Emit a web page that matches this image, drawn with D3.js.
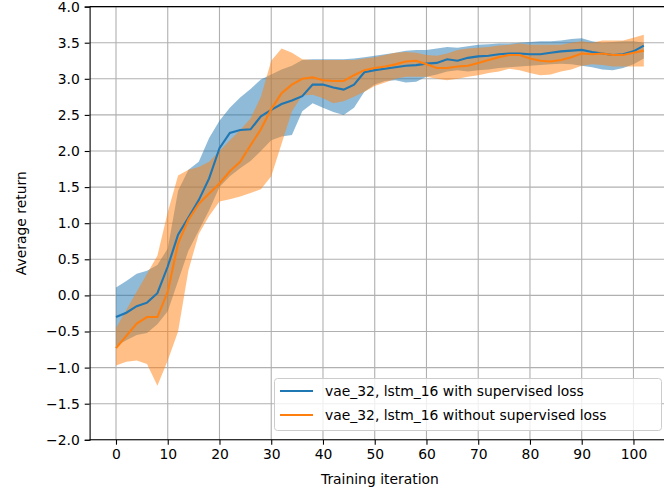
<!DOCTYPE html>
<html>
<head>
<meta charset="utf-8">
<script src="https://cdn.jsdelivr.net/npm/d3@7"></script>
<style>
  body { margin: 0; background: #fff; }
  svg { display: block; font-family: "DejaVu Sans", sans-serif; }
</style>
</head>
<body>
<svg id="chart" width="664" height="495"></svg>
<script>
var iterations = [0, 2, 4, 6, 8, 10, 12, 14, 16, 18, 20, 22, 24, 26, 28, 30, 32, 34, 36, 38,
  40, 42, 44, 46, 48, 50, 52, 54, 56, 58, 60, 62, 64, 66, 68, 70, 72, 74, 76, 78,
  80, 82, 84, 86, 88, 90, 92, 94, 96, 98, 100, 102];

// with supervised loss
var supMean = [-0.30, -0.24, -0.15, -0.10, 0.03, 0.40, 0.84, 1.08, 1.32, 1.62, 2.04, 2.25, 2.29, 2.30, 2.48, 2.57, 2.65, 2.70, 2.76, 2.92,
  2.92, 2.88, 2.85, 2.92, 3.09, 3.12, 3.14, 3.16, 3.18, 3.19, 3.21, 3.22, 3.27, 3.25, 3.29, 3.31, 3.32, 3.34, 3.35, 3.35,
  3.34, 3.34, 3.36, 3.38, 3.39, 3.40, 3.37, 3.35, 3.33, 3.34, 3.38, 3.46];
var supUpper = [0.11, 0.20, 0.30, 0.34, 0.42, 0.65, 1.45, 1.74, 1.85, 2.18, 2.42, 2.60, 2.74, 2.86, 2.99, 3.06, 3.13, 3.18, 3.26, 3.27,
  3.27, 3.27, 3.27, 3.28, 3.30, 3.32, 3.34, 3.36, 3.39, 3.40, 3.40, 3.42, 3.44, 3.43, 3.45, 3.47, 3.48, 3.49, 3.49, 3.50,
  3.51, 3.52, 3.52, 3.53, 3.55, 3.56, 3.52, 3.50, 3.51, 3.52, 3.52, 3.50];
var supLower = [-0.70, -0.62, -0.55, -0.52, -0.40, -0.22, 0.20, 0.62, 0.90, 1.18, 1.50, 1.65, 1.76, 1.86, 2.00, 2.15, 2.20, 2.22, 2.55, 2.66,
  2.60, 2.54, 2.50, 2.60, 2.82, 2.92, 2.97, 2.98, 2.95, 2.96, 3.03, 3.06, 3.10, 3.12, 3.10, 3.12, 3.13, 3.15, 3.16, 3.17,
  3.18, 3.19, 3.20, 3.21, 3.20, 3.18, 3.16, 3.13, 3.12, 3.15, 3.20, 3.28];

// without supervised loss
var unsupMean = [-0.73, -0.56, -0.39, -0.30, -0.30, 0.05, 0.72, 1.05, 1.27, 1.41, 1.55, 1.72, 1.85, 2.08, 2.30, 2.58, 2.80, 2.92, 3.00, 3.02,
  2.98, 2.97, 2.97, 3.05, 3.12, 3.15, 3.17, 3.20, 3.24, 3.25, 3.20, 3.15, 3.15, 3.17, 3.18, 3.22, 3.26, 3.30, 3.33, 3.33,
  3.28, 3.25, 3.24, 3.26, 3.30, 3.35, 3.34, 3.35, 3.33, 3.33, 3.36, 3.39];
var unsupUpper = [-0.45, -0.20, 0.05, 0.30, 0.55, 1.15, 1.66, 1.74, 1.78, 1.85, 2.00, 2.15, 2.29, 2.45, 2.75, 3.25, 3.42, 3.36, 3.27, 3.26,
  3.26, 3.26, 3.26, 3.26, 3.28, 3.30, 3.33, 3.36, 3.37, 3.36, 3.33, 3.32, 3.35, 3.40, 3.42, 3.43, 3.44, 3.46, 3.47, 3.49,
  3.47, 3.47, 3.47, 3.47, 3.50, 3.52, 3.50, 3.53, 3.53, 3.53, 3.57, 3.61];
var unsupLower = [-0.97, -0.92, -0.90, -0.95, -1.25, -0.90, -0.50, 0.35, 0.85, 1.10, 1.30, 1.33, 1.37, 1.42, 1.47, 1.65, 2.10, 2.55, 2.77, 2.78,
  2.73, 2.66, 2.69, 2.75, 2.82, 2.90, 2.95, 3.00, 3.03, 3.03, 3.03, 3.00, 2.98, 3.00, 3.03, 3.05, 3.08, 3.10, 3.14, 3.12,
  3.08, 3.05, 3.06, 3.10, 3.13, 3.18, 3.20, 3.19, 3.17, 3.17, 3.17, 3.17];

var xTicks = [0, 10, 20, 30, 40, 50, 60, 70, 80, 90, 100];
var yTicks = [-2.0, -1.5, -1.0, -0.5, 0.0, 0.5, 1.0, 1.5, 2.0, 2.5, 3.0, 3.5, 4.0];
var labels = ['vae_32, lstm_16 with supervised loss', 'vae_32, lstm_16 without supervised loss'];

var blue = '#1f77b4', orange = '#ff7f0e';

var svg = d3.select('#chart');
var padL = 89.6, padR = 670.2, padT = 6.6, padB = 439.8;

var x = d3.scaleLinear().domain([-5.1, 107.1]).range([padL, padR]);
var y = d3.scaleLinear().domain([-2, 4]).range([padB, padT]);

// grid
svg.append('g')
    .selectAll('line')
    .data(xTicks)
    .enter()
    .append('line')
    .attr('x1', function(d) { return x(d); })
    .attr('x2', function(d) { return x(d); })
    .attr('y1', padT).attr('y2', padB)
    .attr('stroke', '#b0b0b0').attr('stroke-width', 1.1);
svg.append('g')
    .selectAll('line')
    .data(yTicks)
    .enter()
    .append('line')
    .attr('x1', padL).attr('x2', padR)
    .attr('y1', function(d) { return y(d); })
    .attr('y2', function(d) { return y(d); })
    .attr('stroke', '#b0b0b0').attr('stroke-width', 1.1);

function band(lo, hi) {
  return d3.area()
      .x(function(d, i) { return x(iterations[i]); })
      .y0(function(d, i) { return y(lo[i]); })
      .y1(function(d, i) { return y(hi[i]); })(iterations);
}
function line(vals) {
  return d3.line()
      .x(function(d, i) { return x(iterations[i]); })
      .y(function(d) { return y(d); })(vals);
}

svg.append('path').attr('d', band(supLower, supUpper)).attr('fill', blue).attr('fill-opacity', 0.5);
svg.append('path').attr('d', band(unsupLower, unsupUpper)).attr('fill', orange).attr('fill-opacity', 0.5);
svg.append('path').attr('d', line(supMean)).attr('fill', 'none').attr('stroke', blue).attr('stroke-width', 2.1);
svg.append('path').attr('d', line(unsupMean)).attr('fill', 'none').attr('stroke', orange).attr('stroke-width', 2.1);

// axes
var fmt = function(d) { return d3.format('.1f')(d).replace('-', '\u2212'); };
var xAxis = svg.append('g')
    .attr('transform', 'translate(0,' + padB + ')')
    .call(d3.axisBottom(x).tickValues(xTicks).tickSizeOuter(0).tickSize(4.9).tickPadding(4.9));
var yAxis = svg.append('g')
    .attr('transform', 'translate(' + padL + ',0)')
    .call(d3.axisLeft(y).tickValues(yTicks).tickFormat(fmt).tickSizeOuter(0).tickSize(4.9).tickPadding(4.9));
[xAxis, yAxis].forEach(function(a) {
  a.select('.domain').attr('stroke', '#000').attr('stroke-width', 1.1);
  a.selectAll('.tick line').attr('stroke', '#000').attr('stroke-width', 1.1);
  a.selectAll('.tick text').attr('fill', '#000').style('font-size', '13.9px').style('font-family', 'DejaVu Sans');
});
xAxis.select('.domain').attr('d', 'M' + padL + ',0H' + 664);
svg.append('line').attr('x1', padL).attr('x2', 664).attr('y1', padT).attr('y2', padT)
    .attr('stroke', '#000').attr('stroke-width', 1.1);

svg.append('text')
    .attr('x', (padL + padR) / 2).attr('y', 484)
    .attr('text-anchor', 'middle')
    .style('font-size', '13.9px')
    .text('Training iteration');
svg.append('text')
    .attr('transform', 'translate(26,' + (padT + padB) / 2 + ') rotate(-90)')
    .attr('text-anchor', 'middle')
    .style('font-size', '13.9px')
    .text('Average return');

// legend
var legend = svg.append('g');
legend.append('rect')
    .attr('x', 274.5).attr('y', 378.5).attr('width', 387).attr('height', 52)
    .attr('rx', 3).attr('fill', '#fff').attr('fill-opacity', 0.8)
    .attr('stroke', '#cccccc').attr('stroke-width', 1);
legend.selectAll('g')
    .data(labels)
    .enter()
    .append('g')
    .each(function(d, i) {
      var g = d3.select(this);
      var ly = 391 + i * 24;
      g.append('line').attr('x1', 280).attr('x2', 313).attr('y1', ly).attr('y2', ly)
          .attr('stroke', i === 0 ? blue : orange).attr('stroke-width', 2.1);
      g.append('text').attr('x', 325).attr('y', ly + 5)
          .style('font-size', '13.9px').text(d);
    });
</script>
</body>
</html>
